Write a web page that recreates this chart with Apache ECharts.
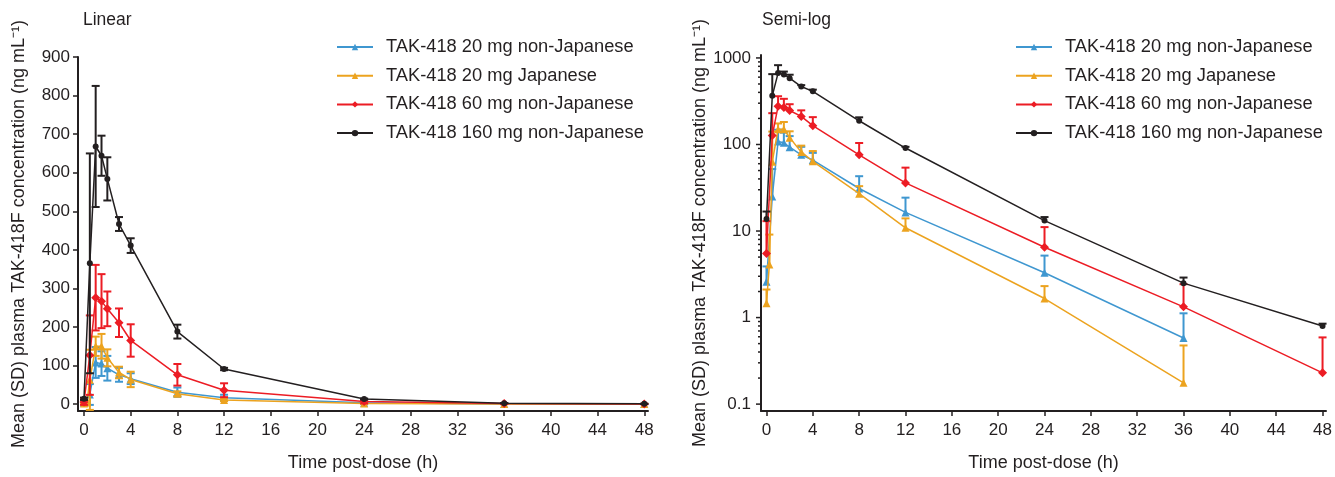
<!DOCTYPE html>
<html><head><meta charset="utf-8">
<script src="https://cdn.jsdelivr.net/npm/echarts@6/dist/echarts.min.js"></script>
<style>html,body{margin:0;padding:0;background:#fff}#c{width:1335px;height:477px}</style>
</head><body><div id="c"></div><script>
// ---- data ----
const seriesNames = ['TAK-418 20 mg non-Japanese', 'TAK-418 20 mg Japanese', 'TAK-418 60 mg non-Japanese', 'TAK-418 160 mg non-Japanese'];
const timesStd = [0, 0.5, 1, 1.5, 2, 3, 4, 8, 12, 24, 36, 48];
const timesJapanese = [0, 0.25, 0.5, 1, 1.5, 2, 3, 4, 8, 12, 24, 36, 48];
const mean20NonJ = [2.6, 25, 108, 105, 93, 76, 66, 31, 16.4, 3.3, 0.58, 0];
const sd20NonJ = [1.3, 27, 40, 32, 32, 18, 14, 12, 7.9, 1.9, 0.54, 0];
const mean20J = [1.46, 4.1, 63, 150, 150, 120, 82, 64, 27, 10.9, 1.66, 0.176, 0];
const sd20J = [0.65, 5, 78, 25, 32, 22, 15, 20, 6, 3.1, 0.65, 0.3, 0];
const mean60 = [5.5, 127, 276, 267, 247, 211, 165, 76, 36, 6.5, 1.33, 0.23];
const sd60 = [7.5, 103, 85, 70, 45, 37, 42, 28, 18, 4.6, 1.1, 0.36];
const mean160 = [13.8, 365, 668, 644, 584, 467, 411, 188, 91, 13.2, 2.5, 0.8];
const sd160 = [3, 285, 157, 52, 56, 18, 19, 18, 3, 1.3, 0.4, 0.05];
const xTicks = [0, 4, 8, 12, 16, 20, 24, 28, 32, 36, 40, 44, 48];
const linearTicks = [0, 100, 200, 300, 400, 500, 600, 700, 800, 900];
const logMajorTicks = [0.1, 1, 10, 100, 1000];
const logMinorTicks = [0.2, 0.3, 0.4, 0.5, 0.6, 0.7, 0.8, 0.9, 2, 3, 4, 5, 6, 7, 8, 9, 20, 30, 40, 50, 60, 70, 80, 90, 200, 300, 400, 500, 600, 700, 800, 900];

// ---- styling ----
const colors = ['#3f97d0', '#eca31f', '#ec1c24', '#231f20'];
const symbols = ['triangle', 'triangle', 'diamond', 'circle'];
const symbolSizes = [8, 8, 9, 6];
const FONT = '"Liberation Sans", Arial, Helvetica, sans-serif';
const INK = '#231f20';
const groups = [
  { t: timesStd, m: mean20NonJ, s: sd20NonJ },
  { t: timesJapanese, m: mean20J, s: sd20J },
  { t: timesStd, m: mean60, s: sd60 },
  { t: timesStd, m: mean160, s: sd160 }
];
const leftX = { min: -0.514, max: 48.32 };
const rightX = { min: -0.473, max: 48.3 };

function errRender(color, twoSided) {
  return function (params, api) {
    const x = api.value(0), m = api.value(1), s = api.value(2);
    const top = api.coord([x, m + s]);
    const bot = api.coord([x, twoSided ? m - s : m]);
    const hw = 4;
    const st = { stroke: color, lineWidth: 2 };
    const ch = [
      { type: 'line', shape: { x1: top[0], y1: top[1], x2: bot[0], y2: bot[1] }, style: st },
      { type: 'line', shape: { x1: top[0] - hw, y1: top[1], x2: top[0] + hw, y2: top[1] }, style: st }
    ];
    if (twoSided) ch.push({ type: 'line', shape: { x1: bot[0] - hw, y1: bot[1], x2: bot[0] + hw, y2: bot[1] }, style: st });
    return { type: 'group', children: ch };
  };
}
function tickRender(len) {
  return function (params, api) {
    const p = api.coord([api.value(0), api.value(1)]);
    return { type: 'line', shape: { x1: p[0] - len, y1: p[1], x2: p[0], y2: p[1] }, style: { stroke: INK, lineWidth: 1.5 } };
  };
}

const series = [];
groups.forEach((g, i) => {
  series.push({
    type: 'line', name: seriesNames[i], xAxisIndex: 0, yAxisIndex: 0,
    data: g.t.map((t, k) => [t, g.m[k]]),
    symbol: symbols[i], symbolSize: symbolSizes[i], showSymbol: true,
    lineStyle: { color: colors[i], width: 1.5 }, itemStyle: { color: colors[i] },
    clip: false, z: 3 + i, animation: false
  });
});
groups.forEach((g, i) => {
  const d = [];
  g.t.forEach((t, k) => { if (g.m[k] > 0) d.push([t, g.m[k]]); });
  series.push({
    type: 'line', name: seriesNames[i], xAxisIndex: 1, yAxisIndex: 1,
    data: d,
    symbol: symbols[i], symbolSize: symbolSizes[i], showSymbol: true,
    lineStyle: { color: colors[i], width: 1.5 }, itemStyle: { color: colors[i] },
    clip: false, z: 3 + i, animation: false
  });
});
groups.forEach((g, i) => {
  series.push({
    type: 'custom', name: seriesNames[i] + ' SD', xAxisIndex: 0, yAxisIndex: 0,
    data: g.t.map((t, k) => [t, g.m[k], g.s[k]]).filter(r => r[2] > 0),
    encode: { x: 0, y: 1 }, renderItem: errRender(colors[i], true), z: 3 + i, silent: true, animation: false
  });
  const d = [];
  g.t.forEach((t, k) => { if (g.m[k] > 0 && g.s[k] > 0) d.push([t, g.m[k], g.s[k]]); });
  series.push({
    type: 'custom', name: seriesNames[i] + ' SD log', xAxisIndex: 1, yAxisIndex: 1,
    data: d, encode: { x: 0, y: 1 }, renderItem: errRender(colors[i], false), z: 3 + i, silent: true, animation: false
  });
});
series.push({
  type: 'custom', name: 'major ticks', xAxisIndex: 1, yAxisIndex: 1,
  data: logMajorTicks.map(v => [rightX.min, v]), encode: { x: 0, y: 1 },
  renderItem: tickRender(5), silent: true, animation: false, clip: false
});
series.push({
  type: 'custom', name: 'minor ticks', xAxisIndex: 1, yAxisIndex: 1,
  data: logMinorTicks.map(v => [rightX.min, v]), encode: { x: 0, y: 1 },
  renderItem: tickRender(3), silent: true, animation: false, clip: false
});

const axisLine = { show: true, onZero: false, lineStyle: { color: INK, width: 2 } };
const axisTick = { show: true, length: 5, lineStyle: { color: INK, width: 1.5 } };
const labelStyle = { color: INK, fontSize: 17, fontFamily: FONT };
const nameStyle = { color: INK, fontSize: 18, fontFamily: FONT };
const yName = 'Mean (SD) plasma TAK-418F concentration (ng mL\u207B\u00B9)';

function xAxisCfg(gi, ext) {
  return {
    type: 'value', gridIndex: gi, min: ext.min, max: ext.max,
    axisLine, axisTick: Object.assign({ customValues: xTicks }, axisTick),
    axisLabel: Object.assign({ customValues: xTicks, margin: 11 }, labelStyle),
    splitLine: { show: false },
    name: 'Time post-dose (h)', nameLocation: 'middle', nameGap: 43, nameTextStyle: nameStyle
  };
}

const legendCommon = {
  orient: 'vertical', itemWidth: 36, itemHeight: 8, itemGap: 10.7, padding: 0,
  data: seriesNames, selectedMode: false,
  textStyle: { color: INK, fontSize: 18.3, fontFamily: FONT, lineHeight: 18, padding: [0, 0, 0, 8] }
};

const option = {
  backgroundColor: '#fff',
  animation: false,
  textStyle: { fontFamily: FONT },
  title: [
    { text: 'Linear', left: 78, top: 6, textStyle: { color: INK, fontSize: 17.5, fontWeight: 'normal', fontFamily: FONT } },
    { text: 'Semi-log', left: 757, top: 6, textStyle: { color: INK, fontSize: 17.5, fontWeight: 'normal', fontFamily: FONT } }
  ],
  legend: [
    Object.assign({ left: 336, top: 38 }, legendCommon),
    Object.assign({ left: 1015, top: 38 }, legendCommon)
  ],
  grid: [
    { left: 78, top: 57, width: 570, height: 360, containLabel: false },
    { left: 761, top: 55, width: 567, height: 362, containLabel: false }
  ],
  xAxis: [xAxisCfg(0, leftX), xAxisCfg(1, rightX)],
  yAxis: [
    {
      type: 'value', gridIndex: 0, min: -17.85, max: 900,
      axisLine, axisTick: Object.assign({ customValues: linearTicks }, axisTick),
      axisLabel: Object.assign({ customValues: linearTicks, margin: 8 }, labelStyle),
      splitLine: { show: false },
      name: yName, nameLocation: 'middle', nameGap: 50, nameTextStyle: nameStyle
    },
    {
      type: 'log', logBase: 10, gridIndex: 1, min: 0.08326, max: 1081.5,
      axisLine, axisTick: { show: false },
      axisLabel: Object.assign({ margin: 10, showMinLabel: false, showMaxLabel: false, formatter: v => String(v) }, labelStyle),
      splitLine: { show: false }, minorTick: { show: false },
      name: yName, nameLocation: 'middle', nameGap: 52, nameTextStyle: nameStyle
    }
  ],
  series
};
const chart = echarts.init(document.getElementById('c'), null, { renderer: 'canvas' });
chart.setOption(option);
</script></body></html>
